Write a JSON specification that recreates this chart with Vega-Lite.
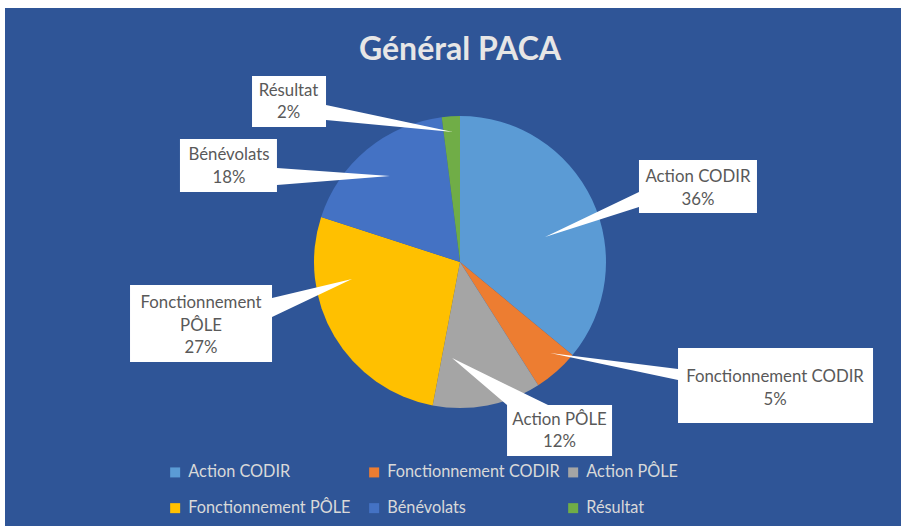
{
  "$schema": "https://vega.github.io/schema/vega-lite/v6.json",
  "width": 896,
  "height": 518,
  "autosize": {"type": "none"},
  "padding": {"left": 5, "top": 8, "right": 0, "bottom": 0},
  "background": "#ffffff",
  "config": {"view": {"fill": "#2F5597", "stroke": null}},
  "title": {
    "text": "Général PACA",
    "font": "Lato",
    "fontSize": 32,
    "fontWeight": "bold",
    "color": "#E7E6E6",
    "anchor": "middle",
    "offset": -59,
    "dx": 7
  },
  "data": {
    "values": [
      {"category": "Action CODIR", "value": 36},
      {"category": "Fonctionnement CODIR", "value": 5},
      {"category": "Action PÔLE", "value": 12},
      {"category": "Fonctionnement PÔLE", "value": 27},
      {"category": "Bénévolats", "value": 18},
      {"category": "Résultat", "value": 2}
    ]
  },
  "transform": [
    {"window": [{"op": "row_number", "as": "idx"}, {"op": "sum", "field": "value", "as": "cum"}]},
    {"joinaggregate": [{"op": "sum", "field": "value", "as": "total"}]},
    {"calculate": "(datum.cum - datum.value / 2) / datum.total * 2 * PI", "as": "mid"},
    {"calculate": "100 * sin(datum.mid)", "as": "ax"},
    {"calculate": "100 * cos(datum.mid)", "as": "ay"},
    {"calculate": "datum.category + '\\n' + datum.value + '%'", "as": "label"}
  ],
  "layer": [
    {
      "mark": {"type": "arc", "outerRadius": 146},
      "encoding": {
        "x": {"datum": 0, "type": "quantitative", "scale": {"domain": [-455, 441], "nice": false, "zero": false}, "axis": null},
        "y": {"datum": 0, "type": "quantitative", "scale": {"domain": [-264, 254], "nice": false, "zero": false}, "axis": null},
        "theta": {"field": "value", "type": "quantitative", "stack": true},
        "order": {"field": "idx", "type": "quantitative"},
        "color": {
          "field": "category",
          "type": "nominal",
          "sort": null,
          "scale": {"range": ["#5B9BD5", "#ED7D31", "#A5A5A5", "#FFC000", "#4472C4", "#70AD47"]},
          "legend": {
            "title": null,
            "orient": "none",
            "direction": "horizontal",
            "legendX": 162,
            "legendY": 456,
            "columns": 3,
            "gridAlign": "all",
            "columnPadding": 5,
            "rowPadding": 19,
            "symbolType": "square",
            "symbolSize": 100,
            "symbolStrokeWidth": 0,
            "labelOffset": 5,
            "labelLimit": 300,
            "labelFont": "Lato",
            "labelFontSize": 16.3,
            "labelColor": "#D9D9D9",
            "padding": 0
          }
        }
      }
    },
    {
      "mark": {"type": "point", "filled": true, "fill": "#FFFFFF", "opacity": 1, "size": 4, "strokeWidth": 0},
      "encoding": {
        "x": {"field": "ax", "type": "quantitative"},
        "y": {"field": "ay", "type": "quantitative"},
        "shape": {
          "field": "category",
          "type": "nominal",
          "sort": null,
          "legend": null,
          "scale": {"range": [
            "M88.5,-59.4H206.5V-6.4H88.5V-12.4L-5.5,17.6L88.5,-27.4Z",
            "M151.9,11H346.9V86H151.9V43L23.9,16L151.9,32Z",
            "M28.3,44.8L-26.7,-2.2L69.3,44.8H133.3V95.8H28.3Z",
            "M-243.9,-27.9H-101.9V-14.9L-21.9,-33.9L-101.9,4.1V49.1H-243.9Z",
            "M-216.3,-46H-119.3V-17L-6.3,-9L-119.3,0V7H-216.3Z",
            "M-201.7,-86.2H-127.7V-57.2L-0.7,-30.2L-127.7,-42.2V-35.2H-201.7Z"
          ]}
        }
      }
    },
    {
      "transform": [{"filter": "datum.category == 'Action CODIR'"}],
      "mark": {"type": "text", "dx": 147.5, "dy": -42.4, "align": "center", "baseline": "middle", "lineBreak": "\n", "lineHeight": 23, "font": "Lato", "fontSize": 16.8, "color": "#595959"},
      "encoding": {"x": {"field": "ax", "type": "quantitative"}, "y": {"field": "ay", "type": "quantitative"}, "text": {"field": "label"}}
    },
    {
      "transform": [{"filter": "datum.category == 'Fonctionnement CODIR'"}],
      "mark": {"type": "text", "dx": 248.9, "dy": 40, "align": "center", "baseline": "middle", "lineBreak": "\n", "lineHeight": 23, "font": "Lato", "fontSize": 16.8, "color": "#595959"},
      "encoding": {"x": {"field": "ax", "type": "quantitative"}, "y": {"field": "ay", "type": "quantitative"}, "text": {"field": "label"}}
    },
    {
      "transform": [{"filter": "datum.category == 'Action PÔLE'"}],
      "mark": {"type": "text", "dx": 80.8, "dy": 59.8, "align": "center", "baseline": "middle", "lineBreak": "\n", "lineHeight": 22, "font": "Lato", "fontSize": 16.8, "color": "#595959"},
      "encoding": {"x": {"field": "ax", "type": "quantitative"}, "y": {"field": "ay", "type": "quantitative"}, "text": {"field": "label"}}
    },
    {
      "transform": [
        {"filter": "datum.category == 'Fonctionnement PÔLE'"},
        {"calculate": "replace(datum.category, ' ', '\\n') + '\\n' + datum.value + '%'", "as": "label"}
      ],
      "mark": {"type": "text", "dx": -172.9, "dy": -9.9, "align": "center", "baseline": "middle", "lineBreak": "\n", "lineHeight": 22.5, "font": "Lato", "fontSize": 16.8, "color": "#595959"},
      "encoding": {"x": {"field": "ax", "type": "quantitative"}, "y": {"field": "ay", "type": "quantitative"}, "text": {"field": "label"}}
    },
    {
      "transform": [{"filter": "datum.category == 'Bénévolats'"}],
      "mark": {"type": "text", "dx": -167.3, "dy": -30, "align": "center", "baseline": "middle", "lineBreak": "\n", "lineHeight": 23, "font": "Lato", "fontSize": 16.8, "color": "#595959"},
      "encoding": {"x": {"field": "ax", "type": "quantitative"}, "y": {"field": "ay", "type": "quantitative"}, "text": {"field": "label"}}
    },
    {
      "transform": [{"filter": "datum.category == 'Résultat'"}],
      "mark": {"type": "text", "dx": -165.2, "dy": -71.2, "align": "center", "baseline": "middle", "lineBreak": "\n", "lineHeight": 22, "font": "Lato", "fontSize": 16.8, "color": "#595959"},
      "encoding": {"x": {"field": "ax", "type": "quantitative"}, "y": {"field": "ay", "type": "quantitative"}, "text": {"field": "label"}}
    }
  ]
}
